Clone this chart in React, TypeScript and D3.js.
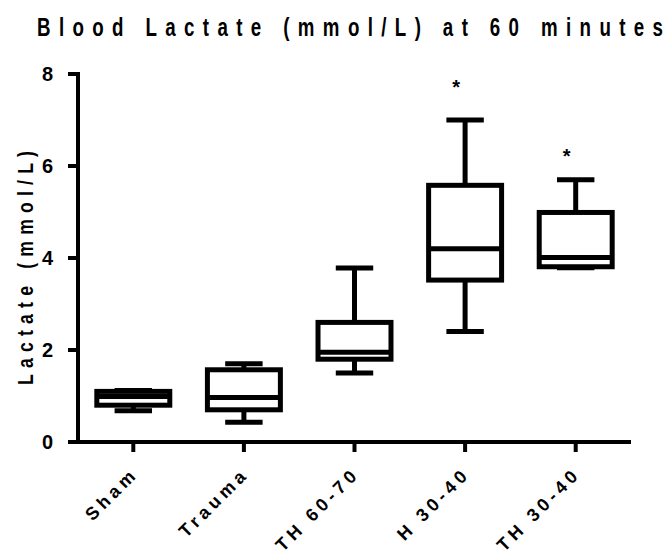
import React from "react";
import * as d3 from "d3";

// Groups and their box-plot summaries (mmol/L)
const groups = ["Sham", "Trauma", "TH 60-70", "H 30-40", "TH 30-40"];
const minValues = [0.68, 0.43, 1.5, 2.4, 3.79];
const q1Values = [0.8, 0.7, 1.8, 3.52, 3.81];
const medianValues = [0.99, 0.97, 1.95, 4.2, 4.01];
const q3Values = [1.1, 1.57, 2.6, 5.58, 4.99];
const maxValues = [1.12, 1.7, 3.78, 7.0, 5.7];
// Level (mmol/L) at which a significance star is placed, null = none
const starLevels: (number | null)[] = [null, null, null, 7.8, 6.3];
const yTicks = [0, 2, 4, 6, 8];

const W = 665;
const H = 555;
const FONT = "'Liberation Sans', Arial, Helvetica, sans-serif";
// horizontal squeeze applied to the heading glyphs
const NARROW = 0.72;

export default function App() {
  const x = d3.scaleBand<string>().domain(groups).range([78, 631]).padding(0);
  const y = d3.scaleLinear().domain([0, 8]).range([442, 74]);
  const boxW = x.bandwidth() * 0.705;
  const capW = boxW * 0.48;
  const sw = 5;

  return (
    <svg width={W} height={H} style={{ position: "absolute", left: 0, top: 0 }}>
      <rect width={W} height={H} fill="#fff" />
      <g transform={`translate(37,36) scale(${NARROW},1)`}>
        <text
          x={0}
          y={0}
          textLength={626 / NARROW}
          lengthAdjust="spacing"
          fontFamily={FONT}
          fontWeight="bold"
          fontSize={26}
          fill="#000"
        >
          Blood Lactate (mmol/L) at 60 minutes
        </text>
      </g>

      {/* y axis */}
      <line x1={78} x2={78} y1={y(8) - 2} y2={y(0) + 2} stroke="#000" strokeWidth={4} />
      {yTicks.map((t) => (
        <g key={t}>
          <line x1={68} x2={78} y1={y(t)} y2={y(t)} stroke="#000" strokeWidth={4} />
          <text
            x={53}
            y={y(t)}
            dy="0.36em"
            textAnchor="end"
            fontFamily={FONT}
            fontWeight="bold"
            fontSize={20}
          >
            {t}
          </text>
        </g>
      ))}
      <g transform={`translate(33,${268}) rotate(-90) scale(0.8,1)`}>
        <text
          textAnchor="middle"
          textLength={234 / 0.8}
          lengthAdjust="spacing"
          fontFamily={FONT}
          fontWeight="bold"
          fontSize={22}
        >
          Lactate (mmol/L)
        </text>
      </g>

      {/* x axis */}
      <line x1={68} x2={631} y1={442} y2={442} stroke="#000" strokeWidth={4} />
      {groups.map((g) => {
        const cx = x(g)! + x.bandwidth() / 2;
        return (
          <g key={g}>
            <line x1={cx} x2={cx} y1={442} y2={452} stroke="#000" strokeWidth={4} />
            <text
              transform={`translate(${cx + 6},${475}) rotate(-45)`}
              textAnchor="end"
              fontFamily={FONT}
              fontWeight="bold"
              fontSize={18}
              letterSpacing={4.3}
            >
              {g}
            </text>
          </g>
        );
      })}

      {/* boxes */}
      {groups.map((g, i) => {
        const cx = x(g)! + x.bandwidth() / 2;
        const star = starLevels[i];
        return (
          <g key={g} stroke="#000" strokeWidth={sw} fill="none">
            <line x1={cx} x2={cx} y1={y(maxValues[i])} y2={y(q3Values[i])} />
            <line x1={cx} x2={cx} y1={y(q1Values[i])} y2={y(minValues[i])} />
            <line x1={cx - capW / 2} x2={cx + capW / 2} y1={y(maxValues[i])} y2={y(maxValues[i])} />
            <line x1={cx - capW / 2} x2={cx + capW / 2} y1={y(minValues[i])} y2={y(minValues[i])} />
            <rect
              x={cx - boxW / 2 + sw / 2}
              y={y(q3Values[i])}
              width={boxW - sw}
              height={y(q1Values[i]) - y(q3Values[i])}
              fill="#fff"
            />
            <line
              x1={cx - boxW / 2 + sw / 2}
              x2={cx + boxW / 2 - sw / 2}
              y1={y(medianValues[i])}
              y2={y(medianValues[i])}
            />
            {star !== null && (
              <text
                x={cx - 9}
                y={y(star) + 11}
                textAnchor="middle"
                stroke="none"
                fill="#000"
                fontFamily={FONT}
                fontWeight="bold"
                fontSize={20}
              >
                *
              </text>
            )}
          </g>
        );
      })}
    </svg>
  );
}
